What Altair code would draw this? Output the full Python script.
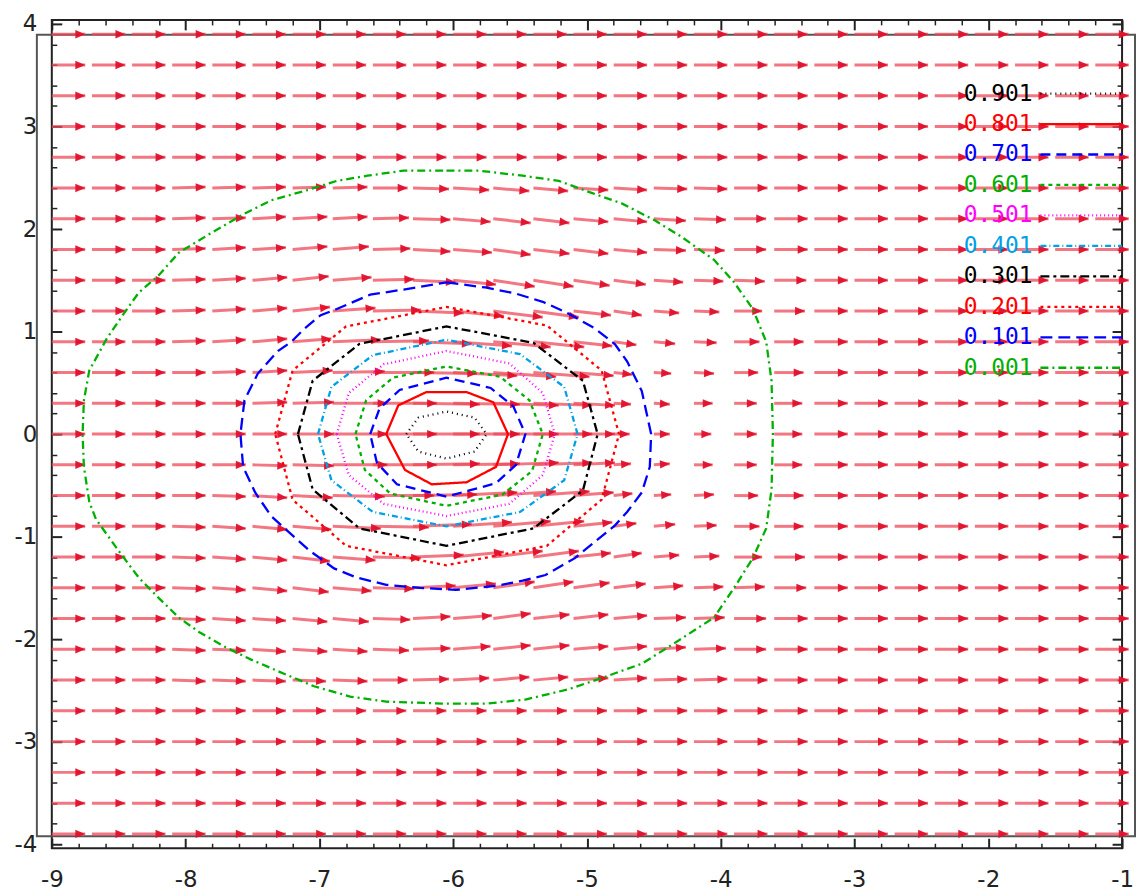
import math
import altair as alt
import pandas as pd

# ---------------- data ----------------
col_x = [-9.0, -8.7, -8.4, -8.1, -7.8, -7.5, -7.2, -6.9, -6.6, -6.3, -6.0, -5.7, -5.4, -5.1,
         -4.8, -4.5, -4.2, -3.9, -3.6, -3.3, -3.0, -2.7, -2.4, -2.1, -1.8, -1.5, -1.2]
row_y = [3.9, 3.6, 3.3, 3.0, 2.7, 2.4, 2.1, 1.8, 1.5, 1.2, 0.9, 0.6, 0.3, 0.0,
         -0.3, -0.6, -0.9, -1.2, -1.5, -1.8, -2.1, -2.4, -2.7, -3.0, -3.3, -3.6, -3.9]
base_dx = 25  # hundredths of a unit, uniform flow far from the bump

# window around the bump where arrows differ (hundredths of a unit)
win_x = [-8.1, -7.8, -7.5, -7.2, -6.9, -6.6, -6.3, -6.0, -5.7, -5.4, -5.1, -4.8, -4.5, -4.2, -3.9, -3.6]
win_y = [2.4, 2.1, 1.8, 1.5, 1.2, 0.9, 0.6, 0.3, 0.0, -0.3, -0.6, -0.9, -1.2, -1.5, -1.8, -2.1, -2.4]
win_dx = [
    [25, 25, 25, 25, 26, 26, 27, 27, 27, 26, 26, 25, 25, 25, 25, 25],
    [25, 25, 25, 26, 26, 27, 28, 28, 28, 27, 26, 25, 24, 24, 24, 25],
    [25, 25, 25, 26, 27, 28, 28, 29, 28, 27, 26, 25, 24, 23, 24, 25],
    [25, 25, 26, 27, 29, 31, 32, 32, 31, 30, 27, 24, 22, 22, 23, 24],
    [25, 25, 26, 28, 32, 36, 38, 38, 37, 34, 28, 21, 19, 19, 21, 23],
    [25, 25, 26, 29, 36, 42, 44, 44, 43, 38, 29, 17, 16, 17, 19, 22],
    [25, 25, 26, 30, 39, 46, 48, 48, 47, 42, 30, 14, 13, 15, 18, 22],
    [25, 25, 26, 31, 41, 48, 50, 50, 49, 44, 31, 13, 12, 14, 17, 21],
    [25, 25, 26, 31, 41, 48, 50, 50, 49, 44, 31, 12, 12, 13, 17, 21],
    [25, 25, 26, 31, 41, 48, 50, 50, 49, 44, 31, 13, 12, 14, 17, 21],
    [25, 25, 26, 30, 39, 46, 48, 48, 47, 42, 30, 14, 13, 15, 18, 22],
    [25, 25, 26, 29, 36, 42, 44, 44, 43, 38, 29, 17, 16, 17, 19, 22],
    [25, 25, 26, 28, 32, 36, 38, 38, 37, 34, 28, 21, 19, 19, 21, 23],
    [25, 25, 26, 27, 29, 31, 32, 32, 31, 30, 27, 24, 22, 22, 23, 24],
    [25, 25, 25, 26, 27, 28, 28, 29, 28, 27, 26, 25, 24, 23, 24, 25],
    [25, 25, 25, 26, 26, 27, 28, 28, 28, 27, 26, 25, 24, 24, 24, 25],
    [25, 25, 25, 25, 26, 26, 27, 27, 27, 26, 26, 25, 25, 25, 25, 25],
]
win_dy = [
    [1, 1, 1, 1, 1, 0, -1, -2, -3, -3, -2, -2, -1, -1, 0, 0],
    [1, 1, 2, 2, 2, 1, -1, -3, -4, -4, -3, -3, -2, -1, 0, 0],
    [1, 2, 2, 3, 3, 1, -2, -3, -5, -4, -4, -3, -1, -1, 0, 0],
    [1, 2, 3, 4, 3, 1, -2, -4, -6, -6, -5, -4, -2, -1, -1, 0],
    [1, 2, 3, 4, 3, 1, -2, -5, -6, -6, -4, -4, -2, -1, 0, 0],
    [1, 2, 3, 3, 2, 1, -2, -4, -5, -5, -4, -3, -2, -1, 0, 0],
    [0, 1, 2, 2, 1, 0, -1, -3, -4, -4, -3, -2, -1, -1, 0, 0],
    [0, 0, 1, 1, 0, 0, -1, -1, -2, -2, -2, -1, -1, 0, 0, 0],
    [0, 0, 0, 0, 0, 0, 0, 0, 0, 0, 0, 0, 0, 0, 0, 0],
    [0, 0, -1, -1, 0, 0, 1, 1, 2, 2, 2, 1, 1, 0, 0, 0],
    [0, -1, -2, -2, -1, 0, 1, 3, 4, 4, 3, 2, 1, 1, 0, 0],
    [-1, -2, -3, -3, -2, -1, 2, 4, 5, 5, 4, 3, 2, 1, 0, 0],
    [-1, -2, -3, -4, -3, -1, 2, 5, 6, 6, 4, 4, 2, 1, 0, 0],
    [-1, -2, -3, -4, -3, -1, 2, 4, 6, 6, 5, 4, 2, 1, 1, 0],
    [-1, -2, -2, -3, -3, -1, 2, 3, 5, 4, 4, 3, 1, 1, 0, 0],
    [-1, -1, -2, -2, -2, -1, 1, 3, 4, 4, 3, 3, 2, 1, 0, 0],
    [-1, -1, -1, -1, -1, 0, 1, 2, 3, 3, 2, 2, 1, 1, 0, 0],
]

levels = ["0.901", "0.801", "0.701", "0.601", "0.501", "0.401", "0.301", "0.201", "0.101", "0.001"]
level_colors = ["#000000", "#ff0000", "#0000ff", "#00b000", "#ff00ff",
                "#00a0e8", "#000000", "#ff0000", "#0000ff", "#00b000"]
level_dashes = [[1, 4], [1, 0], [10, 6], [4, 4], [1, 3], [6, 3, 1, 3],
                [9, 4, 3, 4], [3, 4], [12, 6], [8, 4, 2, 4]]

c_0901 = [(-6.35, 0.0), (-6.26, 0.16), (-6.05, 0.22), (-5.84, 0.16), (-5.75, 0.0),
          (-5.84, -0.17), (-6.05, -0.24), (-6.26, -0.17)]
c_0801 = [(-6.50, 0.0), (-6.41, 0.28), (-6.20, 0.41), (-5.90, 0.41), (-5.70, 0.31), (-5.59, 0.0),
          (-5.68, -0.32), (-5.90, -0.47), (-6.16, -0.49), (-6.36, -0.35)]
c_0701 = [(-6.62, 0.0), (-6.55, 0.25), (-6.40, 0.43), (-6.05, 0.55), (-5.72, 0.45), (-5.55, 0.27),
          (-5.46, 0.0), (-5.53, -0.30), (-5.68, -0.48), (-6.05, -0.61), (-6.42, -0.49), (-6.57, -0.28)]
c_0601 = [(-6.73, 0.0), (-6.65, 0.33), (-6.45, 0.55), (-6.05, 0.66), (-5.65, 0.56), (-5.43, 0.33),
          (-5.33, 0.0), (-5.41, -0.36), (-5.63, -0.59), (-6.05, -0.70), (-6.47, -0.58), (-6.66, -0.35)]
c_0501 = [(-6.87, 0.0), (-6.78, 0.40), (-6.52, 0.68), (-6.05, 0.81), (-5.58, 0.69), (-5.33, 0.40),
          (-5.24, 0.0), (-5.33, -0.40), (-5.58, -0.68), (-6.05, -0.80), (-6.52, -0.68), (-6.78, -0.40)]
c_0401 = [(-7.01, 0.0), (-6.91, 0.46), (-6.60, 0.77), (-6.05, 0.92), (-5.50, 0.78), (-5.17, 0.46),
          (-5.07, 0.0), (-5.17, -0.45), (-5.50, -0.76), (-6.05, -0.90), (-6.60, -0.76), (-6.91, -0.45)]
c_0301 = [(-7.16, 0.0), (-7.05, 0.52), (-6.70, 0.88), (-6.05, 1.05), (-5.40, 0.89), (-5.03, 0.52),
          (-4.92, 0.0), (-5.03, -0.55), (-5.40, -0.92), (-6.05, -1.09), (-6.70, -0.92), (-7.05, -0.54)]
c_0201 = [(-7.33, 0.0), (-7.20, 0.62), (-6.80, 1.05), (-6.05, 1.24), (-5.30, 1.06), (-4.89, 0.62),
          (-4.76, 0.0), (-4.89, -0.64), (-5.30, -1.09), (-6.05, -1.28), (-6.80, -1.09), (-7.20, -0.64)]
c_0101 = [(-6.05, 1.48), (-5.76, 1.43), (-5.53, 1.37), (-5.33, 1.29), (-5.16, 1.19), (-4.94, 1.03),
          (-4.79, 0.875), (-4.70, 0.71), (-4.59, 0.42), (-4.52, 0.0), (-4.53, -0.32), (-4.59, -0.57),
          (-4.70, -0.76), (-4.79, -0.89), (-4.94, -1.05), (-5.09, -1.21), (-5.31, -1.375), (-5.48, -1.43),
          (-5.68, -1.48), (-5.98, -1.52), (-6.25, -1.50), (-6.50, -1.47), (-6.72, -1.40), (-6.89, -1.31),
          (-7.07, -1.14), (-7.26, -0.92), (-7.36, -0.80), (-7.48, -0.57), (-7.57, -0.32), (-7.59, 0.0),
          (-7.56, 0.33), (-7.46, 0.59), (-7.31, 0.81), (-7.21, 0.90), (-7.11, 1.03), (-6.99, 1.16),
          (-6.87, 1.22), (-6.62, 1.36), (-6.37, 1.41)]
c_0001 = [(-6.05, 2.57), (-5.81, 2.57), (-5.48, 2.52), (-5.21, 2.47), (-4.96, 2.35), (-4.74, 2.25),
          (-4.50, 2.09), (-4.30, 1.93), (-4.05, 1.70), (-3.90, 1.48), (-3.76, 1.22), (-3.66, 0.90),
          (-3.62, 0.52), (-3.61, 0.0), (-3.62, -0.54), (-3.66, -0.92), (-3.76, -1.21), (-3.90, -1.50),
          (-4.05, -1.79), (-4.37, -2.06), (-4.59, -2.24), (-4.89, -2.38), (-5.14, -2.49), (-5.46, -2.59),
          (-5.76, -2.63), (-6.05, -2.63), (-6.50, -2.61), (-6.77, -2.56), (-7.04, -2.46), (-7.26, -2.34),
          (-7.51, -2.20), (-7.70, -2.08), (-7.90, -1.93), (-8.05, -1.79), (-8.20, -1.60), (-8.35, -1.40),
          (-8.50, -1.14), (-8.67, -0.83), (-8.72, -0.66), (-8.76, -0.32), (-8.77, 0.0), (-8.76, 0.33),
          (-8.72, 0.62), (-8.64, 0.81), (-8.59, 0.93), (-8.47, 1.16), (-8.35, 1.38), (-8.20, 1.55),
          (-8.05, 1.77), (-7.81, 1.96), (-7.56, 2.15), (-7.36, 2.28), (-7.09, 2.38), (-6.87, 2.47),
          (-6.64, 2.52), (-6.37, 2.57)]
contours = {"0.901": c_0901, "0.801": c_0801, "0.701": c_0701, "0.601": c_0601, "0.501": c_0501,
            "0.401": c_0401, "0.301": c_0301, "0.201": c_0201, "0.101": c_0101, "0.001": c_0001}

major_x = [-9, -8, -7, -6, -5, -4, -3, -2, -1]
major_y = [-4, -3, -2, -1, 0, 1, 2, 3, 4]

# ---------------- layout ----------------
W, H = 1075, 832
XD = [-9.0, -1.0]
YD = [-4.04, 4.04]
KX = W / (XD[1] - XD[0])
KY = H / (YD[1] - YD[0])
minor_x = [round(-9 + 0.2 * k, 2) for k in range(41) if k % 5 != 0]
minor_y = [round(-4 + 0.2 * k, 2) for k in range(41) if k % 5 != 0]

# ---------------- tables ----------------
win = {}
for i, yy in enumerate(win_y):
    for j, xx in enumerate(win_x):
        win[(round(xx, 1), round(yy, 1))] = (win_dx[i][j], win_dy[i][j])

recs = []
for yy in row_y:
    for xx in col_x:
        dx, dy = win.get((round(xx, 1), round(yy, 1)), (base_dx, 0))
        dx, dy = dx / 100.0, dy / 100.0
        ang = (math.degrees(math.atan2(-dy * KY, dx * KX)) + 360.0) % 360.0
        recs.append({"x": xx, "y": yy, "x2": xx + dx, "y2": yy + dy, "ang": ang})
arrows = pd.DataFrame(recs)

crecs = []
for lev, pts in contours.items():
    closed = pts + [pts[0]]
    for k, (px, py) in enumerate(closed):
        crecs.append({"level": lev, "k": k, "x": px, "y": py})
cdf = pd.DataFrame(crecs)

legdf = pd.DataFrame({"level": levels, "idx": list(range(len(levels)))})

xs = alt.Scale(domain=XD, nice=False, zero=False)
ys = alt.Scale(domain=YD, nice=False, zero=False)
col_scale = alt.Scale(domain=levels, range=level_colors)
dash_scale = alt.Scale(domain=levels, range=level_dashes)

axis_common = dict(title=None, grid=False, domain=False, offset=-10, tickSize=10,
                   tickColor="#222222", tickWidth=2, labelFont="DejaVu Sans",
                   labelFontSize=23, labelColor="#222222", labelExpr="'' + datum.value",
                   labelFlush=False, labelOverlap=False, labelBound=False)
bare = dict(labels=False, title=None, grid=False, domain=False, tickColor="#222222")

x_bottom = alt.Axis(orient="bottom", values=major_x, labelPadding=20, **axis_common)
y_left = alt.Axis(orient="left", values=major_y, labelPadding=15, **axis_common)
x_top = alt.Axis(orient="top", values=major_x, offset=-10, tickSize=10, tickWidth=2, **bare)
y_right = alt.Axis(orient="right", values=major_y, offset=-10, tickSize=10, tickWidth=2, **bare)
x_bottom_minor = alt.Axis(orient="bottom", values=minor_x, offset=-5, tickSize=5, tickWidth=1.5, **bare)
y_left_minor = alt.Axis(orient="left", values=minor_y, offset=-5, tickSize=5, tickWidth=1.5, **bare)
x_top_minor = alt.Axis(orient="top", values=minor_x, offset=-5, tickSize=5, tickWidth=1.5, **bare)
y_right_minor = alt.Axis(orient="right", values=minor_y, offset=-5, tickSize=5, tickWidth=1.5, **bare)

outer_frame = alt.Chart(pd.DataFrame({"a": [0]})).mark_rect(
    fillOpacity=0, stroke="#555555", strokeWidth=2
).encode(x=alt.value(-15), x2=alt.value(1088), y=alt.value(15), y2=alt.value(820))

minor_a = alt.Chart(pd.DataFrame({"mx": [-5.0], "my": [0.0]})).mark_point(opacity=0).encode(
    x=alt.X("mx:Q", scale=xs, axis=x_bottom_minor),
    y=alt.Y("my:Q", scale=ys, axis=y_left_minor),
)
minor_b = alt.Chart(pd.DataFrame({"mx": [-5.0], "my": [0.0]})).mark_point(opacity=0).encode(
    x=alt.X("mx:Q", scale=xs, axis=x_top_minor),
    y=alt.Y("my:Q", scale=ys, axis=y_right_minor),
)

shafts = alt.Chart(arrows).mark_rule(color="#ee4a58", strokeWidth=3, opacity=0.75).encode(
    x=alt.X("x:Q", scale=xs, axis=x_bottom),
    y=alt.Y("y:Q", scale=ys, axis=y_left),
    x2="x2:Q", y2="y2:Q",
)

heads = alt.Chart(arrows).mark_point(
    shape="M0,0L-1,-0.42L-1,0.42Z", size=400, filled=True, color="#e0102c", opacity=0.95, strokeWidth=0
).encode(
    x=alt.X("x2:Q", scale=xs, axis=x_top),
    y=alt.Y("y2:Q", scale=ys, axis=y_right),
    angle=alt.Angle("ang:Q", scale=None),
)

cont = alt.Chart(cdf).mark_line(strokeWidth=2.3).encode(
    x=alt.X("x:Q", scale=xs, axis=None),
    y=alt.Y("y:Q", scale=ys, axis=None),
    color=alt.Color("level:N", scale=col_scale, legend=None),
    strokeDash=alt.StrokeDash("level:N", scale=dash_scale, legend=None),
    detail="level:N",
    order=alt.Order("k:Q"),
)

leg_text = alt.Chart(legdf).transform_calculate(py="74 + 30.6 * datum.idx").mark_text(
    align="left", baseline="middle", font="DejaVu Sans Mono", fontSize=23
).encode(
    x=alt.value(916),
    y=alt.Y("py:Q", scale=None, axis=None),
    color=alt.Color("level:N", scale=col_scale, legend=None),
    text="level:N",
)

leg_line = alt.Chart(legdf).transform_calculate(py="74 + 30.6 * datum.idx").mark_rule(strokeWidth=2.3).encode(
    x=alt.value(993), x2=alt.value(1075),
    y=alt.Y("py:Q", scale=None, axis=None),
    color=alt.Color("level:N", scale=col_scale, legend=None),
    strokeDash=alt.StrokeDash("level:N", scale=dash_scale, legend=None),
)

chart = alt.layer(outer_frame, minor_a, minor_b, shafts, heads, cont, leg_line, leg_text).resolve_axis(
    x="independent", y="independent"
).properties(
    width=W, height=H,
    padding={"left": 44, "top": 10, "right": 14, "bottom": 44},
    autosize=alt.AutoSizeParams(type="none"),
).configure_view(stroke="#222222", strokeWidth=2)

chart.save("out.html", embed_options={"renderer": "svg", "actions": False})
